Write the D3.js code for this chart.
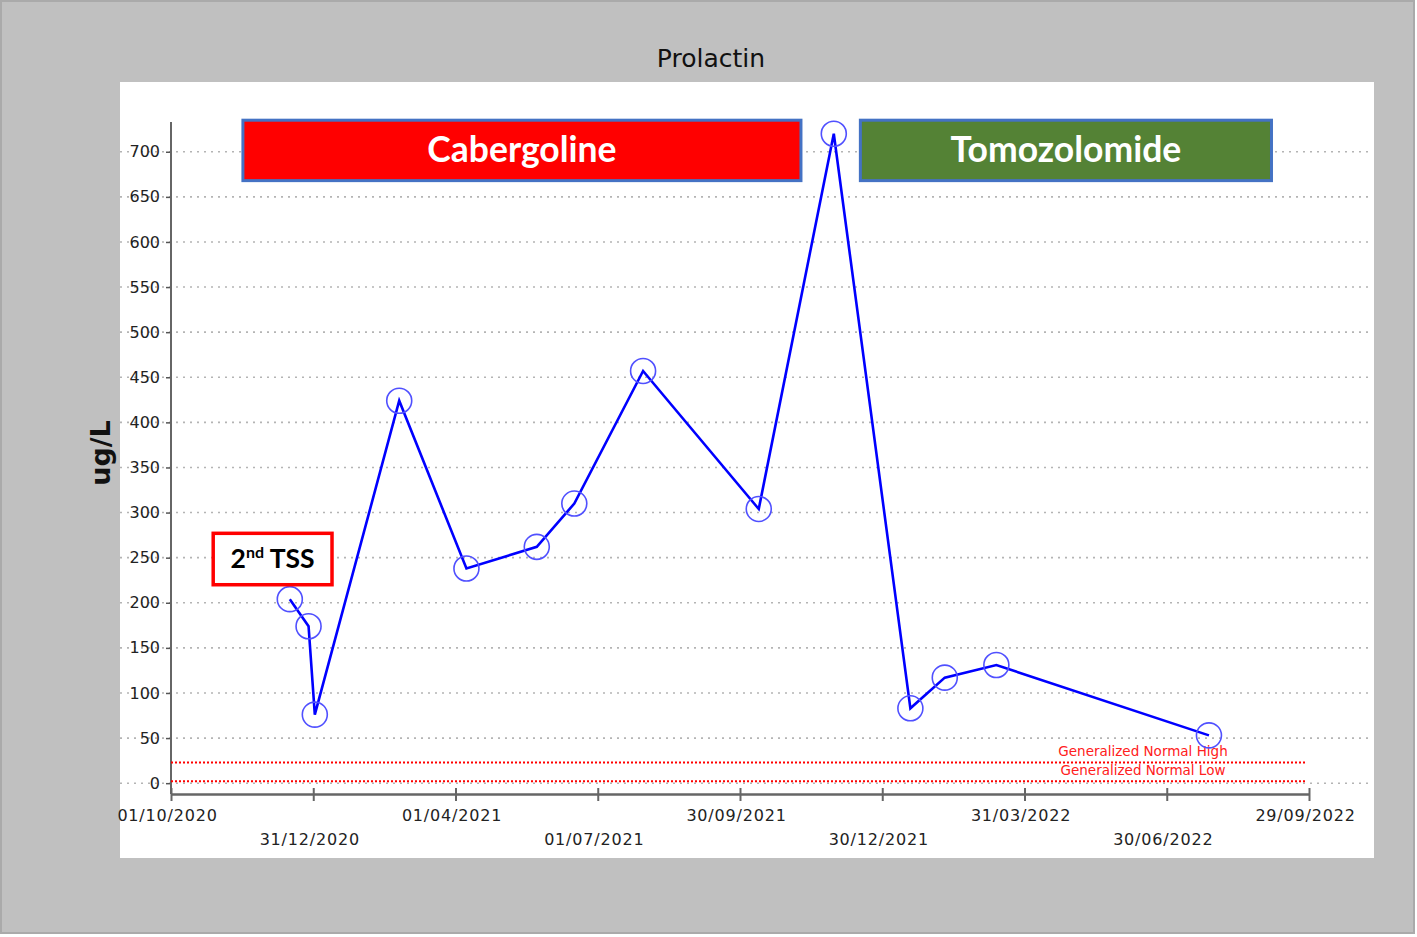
<!DOCTYPE html>
<html>
<head>
<meta charset="utf-8">
<script src="https://cdn.jsdelivr.net/npm/d3@7"></script>
<style>
  html, body { margin:0; padding:0; background:#fff; }
  svg { display:block; }
</style>
</head>
<body>
<svg id="chart" width="1417" height="937"></svg>
<script>
// sample dates and prolactin values (ug/L)
var sampleDates = ['16/12/2020', '28/12/2020', '01/01/2021', '24/02/2021', '08/04/2021', '23/05/2021', '16/06/2021',
                   '30/07/2021', '12/10/2021', '29/11/2021', '17/01/2022', '08/02/2022', '13/03/2022', '27/07/2022']
var prolactin   = [204, 174, 76, 424, 238, 262, 310, 457, 304, 720, 83, 117, 131, 53]

var tickDates   = ['01/10/2020', '31/12/2020', '01/04/2021', '01/07/2021', '30/09/2021',
                   '30/12/2021', '31/03/2022', '30/06/2022', '29/09/2022']
var yTicks      = d3.range(0, 701, 50)

// reference range lines
var refNames    = ['Generalized Normal High', 'Generalized Normal Low']
var refValues   = [23, 2]

// treatment banners: [from, to] dates, [top, bottom] values
var bannerNames  = ['Cabergoline', 'Tomozolomide']
var bannerFrom   = ['16/11/2020', '16/12/2021']
var bannerTo     = ['08/11/2021', '05/09/2022']
var bannerTop    = [735, 735]
var bannerBottom = [668, 668]
var bannerFill   = ['#ff0000', '#548235']

// 2nd TSS note
var tssFrom = '28/10/2020', tssTo = '12/01/2021', tssTop = 277, tssBottom = 220

var parse = d3.timeParse('%d/%m/%Y')
var fmt   = d3.timeFormat('%d/%m/%Y')

var svg = d3.select('#chart')
var W = 1417, H = 937

// frame
svg.append('rect').attr('x', 0).attr('y', 0).attr('width', W).attr('height', H).attr('fill', '#ffffff')
svg.append('rect').attr('x', 1).attr('y', 1).attr('width', 1413).attr('height', 932)
    .attr('fill', '#c0c0c0').attr('stroke', '#aaaaaa').attr('stroke-width', 2)
svg.append('rect').attr('x', 120).attr('y', 82).attr('width', 1254).attr('height', 776).attr('fill', '#ffffff')

svg.append('text')
    .attr('x', 711).attr('y', 67)
    .attr('text-anchor', 'middle')
    .style('font-family', 'DejaVu Sans, Verdana, sans-serif')
    .style('font-size', '25px')
    .style('fill', '#111')
    .text('Prolactin')

var x = d3.scaleTime()
    .domain([parse(tickDates[0]), parse(tickDates[tickDates.length - 1])])
    .range([171, 1309])

var y = d3.scaleLinear()
    .domain([-12, 733])
    .range([794, 122])

// grid
svg.append('g').selectAll('line')
    .data(yTicks)
    .join('line')
    .attr('x1', 120).attr('x2', 1372)
    .attr('y1', d=> y(d)).attr('y2', d=> y(d))
    .attr('stroke', '#b4b4b4')
    .attr('stroke-width', 1.6)
    .attr('stroke-dasharray', '2,5')

// y axis
var yAxis = svg.append('g')
    .attr('transform', 'translate(171,0)')
    .call(d3.axisLeft(y).tickValues(yTicks).tickSize(5).tickPadding(6))
yAxis.select('.domain').remove()
yAxis.selectAll('.tick line').attr('stroke', '#555').attr('stroke-width', 1.5)
yAxis.selectAll('.tick text')
    .style('font-family', 'DejaVu Sans, Verdana, sans-serif')
    .style('font-size', '16px')
    .style('fill', '#222')
svg.append('line')
    .attr('x1', 171).attr('x2', 171)
    .attr('y1', y.range()[1]).attr('y2', y.range()[0])
    .attr('stroke', '#666').attr('stroke-width', 2)

svg.append('text')
    .attr('transform', 'translate(110,453) rotate(-90)')
    .attr('text-anchor', 'middle')
    .style('font-family', 'DejaVu Sans, Verdana, sans-serif')
    .style('font-size', '27px')
    .style('font-weight', 'bold')
    .style('fill', '#111')
    .text('ug/L')

// x axis
var xAxis = svg.append('g')
    .attr('transform', 'translate(0,' + y.range()[0] + ')')
    .call(d3.axisBottom(x).tickValues(tickDates.map(parse)).tickFormat(fmt).tickSize(7).tickSizeOuter(0))
xAxis.select('.domain').attr('stroke', '#666').attr('stroke-width', 2.5)
xAxis.selectAll('.tick line').attr('y1', -6).attr('stroke', '#666').attr('stroke-width', 2)
xAxis.selectAll('.tick text')
    .attr('x', -4)
    .attr('y', (d, i)=> i % 2 ? 51 : 27)
    .attr('dy', 0)
    .style('font-family', 'DejaVu Sans, Verdana, sans-serif')
    .style('font-size', '16px')
    .style('letter-spacing', '0.8px')
    .style('fill', '#222')

// reference lines
refValues.forEach((v, i)=> {
    svg.append('line')
        .attr('x1', x.range()[0]).attr('x2', 1307)
        .attr('y1', y(v)).attr('y2', y(v))
        .attr('stroke', '#ff0000')
        .attr('stroke-width', 2)
        .attr('stroke-dasharray', '2,2')
    svg.append('text')
        .attr('x', 1143).attr('y', y(v) - 6)
        .attr('text-anchor', 'middle')
        .style('font-family', 'DejaVu Sans, Verdana, sans-serif')
        .style('font-size', '13.5px')
        .style('fill', '#ff2020')
        .text(refNames[i])
})

// series
var pts = sampleDates.map((d, i)=> [x(parse(d)), y(prolactin[i])])

svg.append('path')
    .attr('d', d3.line()(pts))
    .attr('fill', 'none')
    .attr('stroke', '#0000ff')
    .attr('stroke-width', 2.6)
    .attr('stroke-linejoin', 'miter')

svg.append('g').selectAll('circle')
    .data(pts)
    .join('circle')
    .attr('cx', d=> d[0]).attr('cy', d=> d[1])
    .attr('r', 12.5)
    .attr('fill', 'none')
    .attr('stroke', '#5050ff')
    .attr('stroke-width', 1.6)

// treatment banners
bannerNames.forEach((name, i)=> {
    var x0 = x(parse(bannerFrom[i])), x1 = x(parse(bannerTo[i]))
    var y0 = y(bannerTop[i]), y1 = y(bannerBottom[i])
    svg.append('rect')
        .attr('x', x0).attr('y', y0)
        .attr('width', x1 - x0).attr('height', y1 - y0)
        .attr('fill', bannerFill[i])
        .attr('stroke', '#4472c4')
        .attr('stroke-width', 3)
    svg.append('text')
        .attr('x', (x0 + x1) / 2).attr('y', (y0 + y1) / 2 + 12)
        .attr('text-anchor', 'middle')
        .style('font-family', 'Lato, Open Sans, sans-serif')
        .style('font-size', '35.5px')
        .style('font-weight', 'bold')
        .style('fill', '#ffffff')
        .text(name)
})

// 2nd TSS box
var tx0 = x(parse(tssFrom)), tx1 = x(parse(tssTo))
var ty0 = y(tssTop), ty1 = y(tssBottom)
svg.append('rect')
    .attr('x', tx0).attr('y', ty0)
    .attr('width', tx1 - tx0).attr('height', ty1 - ty0)
    .attr('fill', '#ffffff')
    .attr('stroke', '#ff0000')
    .attr('stroke-width', 3.5)
var tss = svg.append('text')
    .attr('x', (tx0 + tx1) / 2).attr('y', (ty0 + ty1) / 2 + 9)
    .attr('text-anchor', 'middle')
    .style('font-family', 'Lato, Open Sans, sans-serif')
    .style('font-size', '26.5px')
    .style('font-weight', 'bold')
    .style('fill', '#000')
tss.append('tspan').text('2')
tss.append('tspan').attr('dy', -10).style('font-size', '16px').text('nd')
tss.append('tspan').attr('dy', 10).text(' TSS')
</script>
</body>
</html>
